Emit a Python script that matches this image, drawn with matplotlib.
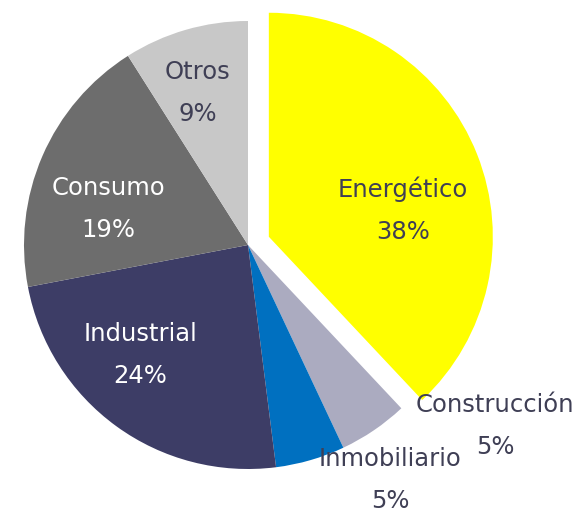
import numpy as np
import matplotlib.pyplot as plt

sectores = ['Energético', 'Construcción', 'Inmobiliario', 'Industrial', 'Consumo', 'Otros']
valores = [38, 5, 5, 24, 19, 9]
colores = ['#FFFF00', '#ABABC0', '#0070C0', '#3D3D66', '#6D6D6D', '#C8C8C8']
separar = [22.4, 0, 0, 0, 0, 0]  # desplazamiento en pixeles
color_txt = ['#3F3F55', '#3F3F55', '#3F3F55', 'white', 'white', '#3F3F55']
# posiciones de etiquetas en pixeles (x, y desde arriba)
pos_txt = [(403, 210), (495, 426), (390, 480), (140, 355), (108, 209), (198, 93)]

W, H = 586, 512
fig = plt.figure(figsize=(W / 100, H / 100), dpi=100)
ax = fig.add_axes([0, 0, 1, 1])

ax.pie(valores, colors=colores, explode=separar, startangle=90, counterclock=False,
       center=(248, H - 245), radius=224, frame=True,
       wedgeprops=dict(linewidth=0))
ax.set_xlim(0, W)
ax.set_ylim(0, H)
ax.set_aspect('equal')
ax.axis('off')

for s, v, c, (x, y) in zip(sectores, valores, color_txt, pos_txt):
    ax.text(x, H - y, f'{s}\n{v}%', ha='center', va='center', color=c,
            fontsize=17.5, linespacing=1.95, family='DejaVu Sans')

fig.savefig('out.png', dpi=100)
